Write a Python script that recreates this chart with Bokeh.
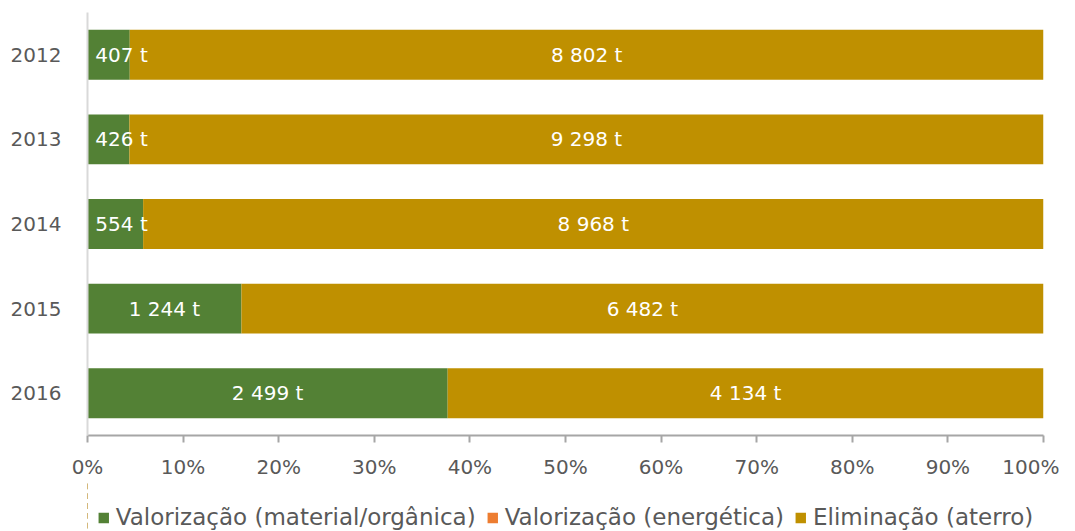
from bokeh.plotting import figure
from bokeh.layouts import column
from bokeh.models import ColumnDataSource, FactorRange, Range1d, NumeralTickFormatter, Legend, LegendItem, FixedTicker
from bokeh.core.properties import value
from bokeh.embed import file_html
from bokeh.resources import INLINE

years = ["2012", "2013", "2014", "2015", "2016"]
material = [407, 426, 554, 1244, 2499]
energetica = [0, 0, 0, 0, 0]
eliminacao = [8802, 9298, 8968, 6482, 4134]
series_names = ["Valorização (material/orgânica)", "Valorização (energética)", "Eliminação (aterro)"]
colors = ["#538135", "#ED7D31", "#BF9000"]

FONT = "DejaVu Sans"
TXT = "#595959"

totals = [a + b + c for a, b, c in zip(material, energetica, eliminacao)]
mat_f = [a / t for a, t in zip(material, totals)]
ene_f = [b / t for b, t in zip(energetica, totals)]
eli_f = [c / t for c, t in zip(eliminacao, totals)]

src = ColumnDataSource(dict(year=years, mat=mat_f, ene=ene_f, eli=eli_f))

p = figure(frame_width=956, frame_height=423, output_backend="svg", toolbar_location=None,
           y_range=FactorRange(factors=years[::-1], range_padding=0),
           x_range=Range1d(0, 1),
           min_border_left=87, min_border_right=16, min_border_top=12, min_border_bottom=0)
p.outline_line_color = None
p.grid.grid_line_color = None

rs = p.hbar_stack(["mat", "ene", "eli"], y="year", height=0.59, color=colors,
                  line_color=None, source=src)

def fmt(v):
    return f"{v:,}".replace(",", " ") + " t"

lx, ly, lt = [], [], []
for i, y in enumerate(years):
    mid = max(mat_f[i] / 2, 0.0356)
    lx.append(mid); ly.append(y); lt.append(fmt(material[i]))
    start = mat_f[i] + ene_f[i]
    lx.append(start + eli_f[i] / 2); ly.append(y); lt.append(fmt(eliminacao[i]))
lsrc = ColumnDataSource(dict(x=lx, y=ly, t=lt))
p.text(x="x", y="y", text="t", source=lsrc, text_align="center", text_baseline="middle",
       text_color="white", text_font_size="20px", text_font=value(FONT))

xa = p.xaxis[0]
xa.ticker = FixedTicker(ticks=[i / 10 for i in range(11)])
xa.formatter = NumeralTickFormatter(format="0%")
xa.axis_line_color = "#A6A6A6"
xa.axis_line_width = 2
xa.major_tick_line_color = "#A6A6A6"
xa.major_tick_line_width = 2
xa.major_tick_in = 0
xa.major_tick_out = 7
xa.minor_tick_line_color = None
xa.major_label_text_font = FONT
xa.major_label_text_font_size = "20px"
xa.major_label_text_color = TXT
xa.major_label_standoff = 12

ya = p.yaxis[0]
ya.axis_line_color = "#D9D9D9"
ya.axis_line_width = 2
ya.major_tick_line_color = None
ya.minor_tick_line_color = None
ya.major_label_text_font = FONT
ya.major_label_text_font_size = "20px"
ya.major_label_text_color = TXT
ya.major_label_standoff = 20

# legend strip (same data, drawn outside its visible range so only the legend shows)
pl = figure(width=1059, height=49, output_backend="svg", toolbar_location=None,
            x_axis_type=None, y_axis_type=None, min_border=0,
            x_range=Range1d(2, 3), y_range=FactorRange(factors=years[::-1]))
pl.outline_line_color = None
pl.grid.grid_line_color = None
proxies = pl.hbar_stack(["mat", "ene", "eli"], y="year", height=0.59, color=colors,
                        line_color=None, source=src)
legend = Legend(items=[LegendItem(label=n, renderers=[r]) for n, r in zip(series_names, proxies)],
                orientation="horizontal", location="bottom_center",
                label_text_font=FONT, label_text_font_size="23px", label_text_color=TXT,
                glyph_width=13, glyph_height=13, spacing=10, label_standoff=6,
                border_line_color=None, background_fill_alpha=0, margin=0, padding=0)
pl.add_layout(legend, "center")

layout = column(p, pl, spacing=0)
open("out.html", "w").write(file_html(layout, INLINE))
